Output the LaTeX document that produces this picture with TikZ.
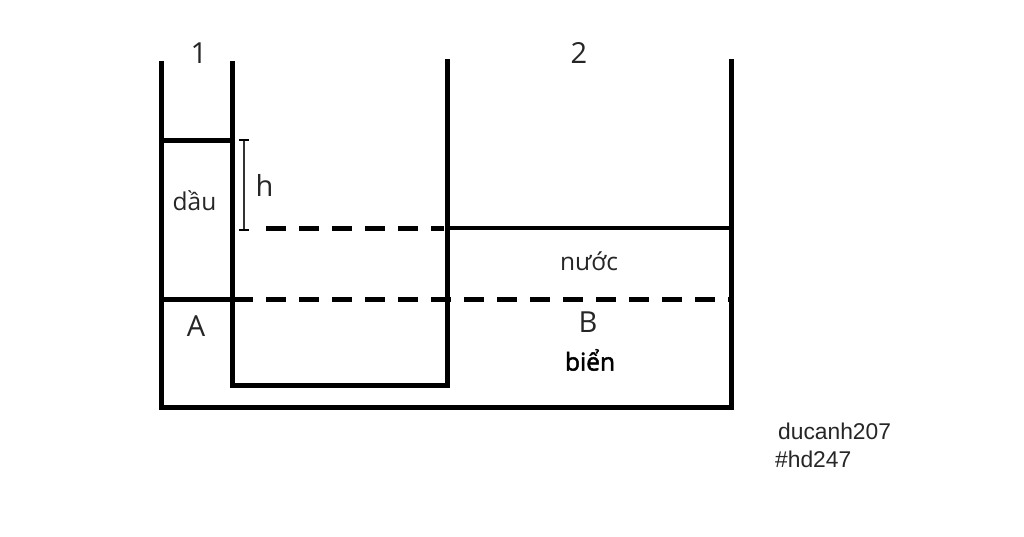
\documentclass[tikz,border=0pt]{standalone}
\usepackage{fontspec}
\setmainfont{Open Sans}
\newfontfamily\signfont{Liberation Sans}
\newfontfamily\seafont[FakeBold=2]{Open Sans}
\begin{document}
\begin{tikzpicture}[x=1pt,y=-1pt,
  wall/.style={line width=5pt,black},
  lvl/.style={line width=5pt,black},
  dashline/.style={line width=5pt,black,dash pattern=on 20pt off 13pt},
  big/.style={inner sep=0pt,text=black!85,font=\fontsize{29}{32}\selectfont},
  small/.style={inner sep=0pt,text=black!85,font=\fontsize{24.5}{28}\selectfont},
  sign/.style={inner sep=0pt,text=black!85,anchor=base west,font=\signfont\fontsize{22.8}{28}\selectfont}]
\useasboundingbox (0,0) rectangle (1024,537);
\fill[white] (0,0) rectangle (1024,537);
\coordinate (tl) at (161,61);\coordinate (bl) at (161,407);
\coordinate (br) at (731,407);\coordinate (tr) at (731,59);
\coordinate (il) at (232,61);\coordinate (ibl) at (232,385);
\coordinate (ibr) at (447,385);\coordinate (ir) at (447,59);
\draw[wall,line join=miter] (tl)--(bl)--(br)--(tr);
\draw[wall,line join=miter] (il)--(ibl)--(ibr)--(ir);
\coordinate (o1) at (161,141);\coordinate (o2) at (232,141);
\draw[lvl] (o1)--(o2);
\coordinate (w1) at (447,228);\coordinate (w2) at (731,228);
\draw[line width=4pt] (w1)--(w2);
\coordinate (d1) at (266,229);\coordinate (d2) at (444,229);
\draw[dashline] (d1)--(d2);
\coordinate (e1) at (161,299);\coordinate (e0) at (253,299);
\coordinate (e3) at (266,299);\coordinate (e2) at (731,299);
\draw[lvl] (e1)--(e0);
\draw[dashline] (e3)--(e2);
\coordinate (h1) at (244,140);\coordinate (h2) at (244,230);
\draw[line width=1.5pt,black!80] (h1)--(h2);
\draw[line width=1.8pt] (239,140)--(249,140) (239,230)--(249,230);
\node[big] (n1) at (199,53) {1};
\node[big] (n2) at (579,53) {2};
\node[big] (nh) at (264.5,185) {h};
\node[small] (nd) at (194.5,201) {dầu};
\node[small] (nn) at (589,261) {nước};
\node[big] (nA) at (196,326) {A};
\node[big] (nB) at (588,322) {B};
\node[small,font=\seafont\fontsize{24.5}{28}\selectfont,text=black] (nb) at (590,360) {biển};
\node[sign] (u) at (778,439) {ducanh207};
\node[sign] (t) at (775,467) {\#hd247};
\end{tikzpicture}
\end{document}
